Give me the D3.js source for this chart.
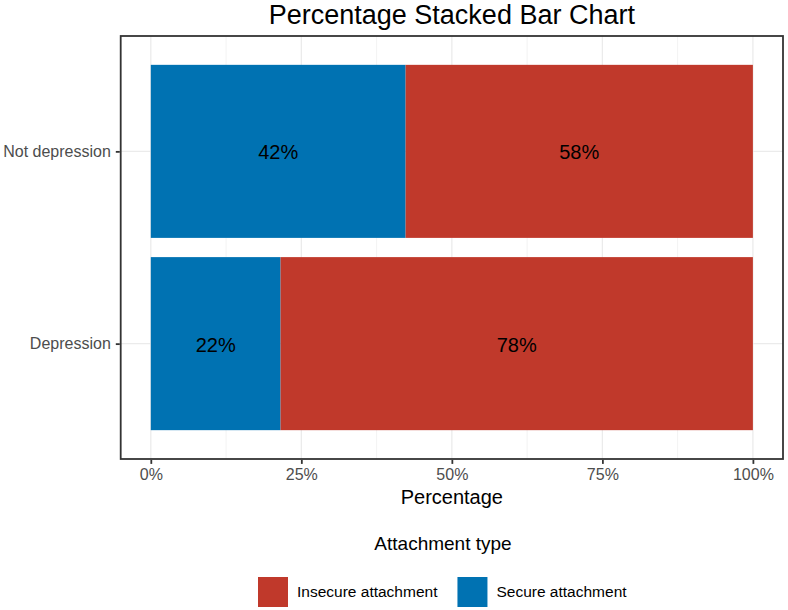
<!DOCTYPE html>
<html><head><meta charset="utf-8">
<script src="https://cdn.jsdelivr.net/npm/d3@7"></script>
<style>body{margin:0;background:#fff;} text{font-family:"Liberation Sans",Arial,sans-serif;}</style>
</head><body>
<svg id="chart" width="788" height="610"></svg>
<script>
const categories = ["Not depression", "Depression"];
const seriesNames = ["Secure attachment", "Insecure attachment"];
const secureValues = [0.4232, 0.2155];
const insecureValues = [0.5768, 0.7845];
const segmentLabels = [["42%", "58%"], ["22%", "78%"]];
const xTicks = [0, 0.25, 0.5, 0.75, 1];
const xMinor = [0.125, 0.375, 0.625, 0.875];
const legendOrder = ["Insecure attachment", "Secure attachment"];
const colors = {"Secure attachment": "#0072B2", "Insecure attachment": "#C0392B"};

const svg = d3.select("#chart");
const panel = {left: 120.7, right: 783, top: 36, bottom: 459};

const x = d3.scaleLinear().domain([-0.05, 1.05]).range([panel.left, panel.right]);
const unit = (panel.bottom - panel.top) / 2.2;
const yc = d3.scalePoint().domain(categories).range([panel.top + 0.6 * unit, panel.bottom - 0.6 * unit]);
const barH = 0.9 * unit;

// grid
const g = svg.append("g");
g.selectAll(".minor").data(xMinor).join("line")
  .attr("x1", d => x(d)).attr("x2", d => x(d)).attr("y1", panel.top).attr("y2", panel.bottom)
  .attr("stroke", "#EBEBEB").attr("stroke-width", 0.6);
g.selectAll(".major").data(xTicks).join("line")
  .attr("x1", d => x(d)).attr("x2", d => x(d)).attr("y1", panel.top).attr("y2", panel.bottom)
  .attr("stroke", "#EBEBEB").attr("stroke-width", 1.3);
g.selectAll(".hmajor").data(categories).join("line")
  .attr("x1", panel.left).attr("x2", panel.right).attr("y1", d => yc(d)).attr("y2", d => yc(d))
  .attr("stroke", "#EBEBEB").attr("stroke-width", 1.3);

// stacked data
const rows = categories.map((c, i) => ({cat: c, "Secure attachment": secureValues[i], "Insecure attachment": insecureValues[i]}));
const stack = d3.stack().keys(seriesNames)(rows);
stack.forEach((layer, li) => {
  svg.append("g").selectAll("rect").data(layer).join("rect")
    .attr("x", d => x(d[0])).attr("width", d => x(d[1]) - x(d[0]))
    .attr("y", d => yc(d.data.cat) - barH / 2).attr("height", barH)
    .attr("fill", colors[layer.key]);
  svg.append("g").selectAll("text").data(layer).join("text")
    .attr("x", d => (x(d[0]) + x(d[1])) / 2).attr("y", d => yc(d.data.cat) + 1)
    .attr("dy", "0.35em").attr("text-anchor", "middle").attr("font-size", 20).attr("fill", "#000")
    .text((d, i) => segmentLabels[i][li]);
});

// panel border
svg.append("rect").attr("x", panel.left).attr("y", panel.top)
  .attr("width", panel.right - panel.left).attr("height", panel.bottom - panel.top)
  .attr("fill", "none").attr("stroke", "#333333").attr("stroke-width", 1.8);

// x axis
const xAxis = svg.append("g").attr("transform", `translate(0,${panel.bottom + 0.9})`)
  .call(d3.axisBottom(x).tickValues(xTicks).tickFormat(d3.format(".0%")).tickSize(4).tickPadding(5));
xAxis.select(".domain").remove();
xAxis.selectAll(".tick line").attr("stroke", "#333333").attr("stroke-width", 1.8);
xAxis.selectAll("text").attr("font-size", 16).attr("fill", "#4D4D4D").attr("font-family", "Liberation Sans, Arial, sans-serif");

// y axis
const yAxis = svg.append("g").attr("transform", `translate(${panel.left - 0.9},0)`)
  .call(d3.axisLeft(yc).tickSize(4).tickPadding(5));
yAxis.select(".domain").remove();
yAxis.selectAll(".tick line").attr("stroke", "#333333").attr("stroke-width", 1.8);
yAxis.selectAll("text").attr("font-size", 16).attr("fill", "#4D4D4D").attr("font-family", "Liberation Sans, Arial, sans-serif");

// titles
svg.append("text").attr("x", (panel.left + panel.right) / 2).attr("y", 24)
  .attr("text-anchor", "middle").attr("font-size", 27).attr("fill", "#000").text("Percentage Stacked Bar Chart");
svg.append("text").attr("x", (panel.left + panel.right) / 2).attr("y", 504)
  .attr("text-anchor", "middle").attr("font-size", 20).attr("fill", "#000").text("Percentage");

// legend
svg.append("text").attr("x", 443).attr("y", 550)
  .attr("text-anchor", "middle").attr("font-size", 19).attr("fill", "#000").text("Attachment type");
const lg = svg.append("g");
let cx = 258;
legendOrder.forEach(name => {
  lg.append("rect").attr("x", cx).attr("y", 577).attr("width", 30).attr("height", 30)
    .attr("fill", colors[name]);
  const t = lg.append("text").attr("x", cx + 39).attr("y", 592).attr("dy", "0.35em")
    .attr("font-size", 15.5).attr("fill", "#000").text(name);
  cx += 39 + t.node().getComputedTextLength() + 20;
});
</script>
</body></html>
